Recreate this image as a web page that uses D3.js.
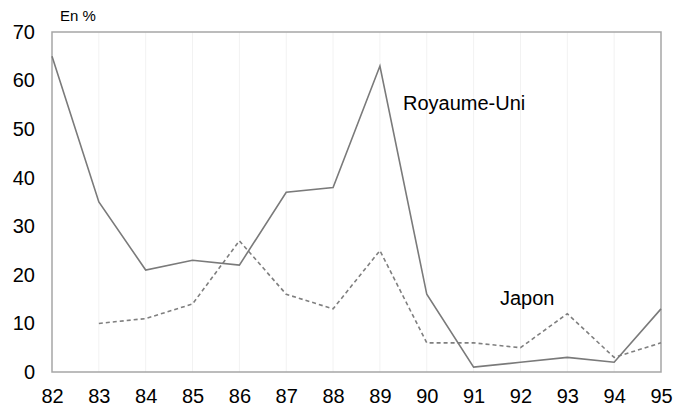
<!DOCTYPE html>
<html>
<head>
<meta charset="utf-8">
<script src="https://cdn.jsdelivr.net/npm/d3@7"></script>
<style>
  body { margin: 0; background: #fff; }
  svg { display: block; font-family: "Liberation Sans", Arial, sans-serif; }
</style>
</head>
<body>
<svg id="chart" width="678" height="413"></svg>
<script>
// data
const years = ["82","83","84","85","86","87","88","89","90","91","92","93","94","95"];
const royaumeUni = [65, 35, 21, 23, 22, 37, 38, 63, 16, 1, 2, 3, 2, 13];
const japon = [null, 10, 11, 14, 27, 16, 13, 25, 6, 6, 5, 12, 3, 6];
const yTicks = [0, 10, 20, 30, 40, 50, 60, 70];

const svg = d3.select("#chart");
const margin = {top: 32, right: 17, bottom: 41, left: 52};
const width = +svg.attr("width") - margin.left - margin.right;
const height = +svg.attr("height") - margin.top - margin.bottom;
const g = svg.append("g").attr("transform", `translate(${margin.left},${margin.top})`);

const x = d3.scalePoint().domain(years).range([0, width]);
const y = d3.scaleLinear().domain([0, 70]).range([height, 0]);

// faint vertical grid
g.selectAll(".vgrid")
  .data(years.slice(1, -1))
  .enter().append("line")
  .attr("x1", d => x(d)).attr("x2", d => x(d))
  .attr("y1", 0).attr("y2", height)
  .attr("stroke", "#f2f2f2");

// frame
g.append("rect")
  .attr("width", width).attr("height", height)
  .attr("fill", "none").attr("stroke", "#a6a6a6").attr("stroke-width", 1.5);

// axes (labels only)
const xAxis = g.append("g")
  .attr("transform", `translate(0,${height})`)
  .call(d3.axisBottom(x).tickSize(0).tickPadding(17));
xAxis.select(".domain").remove();
xAxis.selectAll("text").attr("font-size", 20).attr("fill", "#000")
  .attr("font-family", "Liberation Sans, Arial, sans-serif");

const yAxis = g.append("g")
  .call(d3.axisLeft(y).tickValues(yTicks).tickSize(0).tickPadding(17));
yAxis.select(".domain").remove();
yAxis.selectAll("text").attr("font-size", 20).attr("fill", "#000")
  .attr("font-family", "Liberation Sans, Arial, sans-serif");

const line = d3.line()
  .defined(d => d[1] != null)
  .x(d => x(d[0]))
  .y(d => y(d[1]));

g.append("path")
  .datum(years.map((yr, i) => [yr, japon[i]]))
  .attr("fill", "none").attr("stroke", "#7f7f7f").attr("stroke-width", 1.6)
  .attr("stroke-dasharray", "4,3")
  .attr("d", line);

g.append("path")
  .datum(years.map((yr, i) => [yr, royaumeUni[i]]))
  .attr("fill", "none").attr("stroke", "#7a7a7a").attr("stroke-width", 1.6)
  .attr("d", line);

// labels
svg.append("text").attr("x", 60).attr("y", 21)
  .attr("font-size", 15).text("En %");
svg.append("text").attr("x", 403).attr("y", 110)
  .attr("font-size", 20).text("Royaume-Uni");
svg.append("text").attr("x", 500).attr("y", 305)
  .attr("font-size", 20).text("Japon");
</script>
</body>
</html>
